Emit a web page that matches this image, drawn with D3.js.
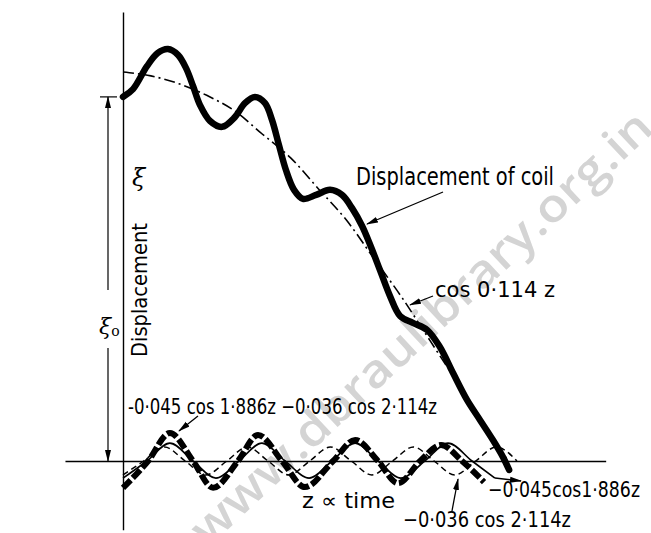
<!DOCTYPE html>
<html>
<head>
<meta charset="utf-8">
<script src="https://cdn.jsdelivr.net/npm/d3@7"></script>
<style>
  html, body { margin: 0; padding: 0; background: #fff; }
  svg { display: block; background: #fff; }
  text { font-family: "DejaVu Sans Condensed", "Liberation Sans Narrow", "DejaVu Sans", sans-serif; fill: #000; }
</style>
</head>
<body>
<svg id="chart" width="651" height="533"></svg>
<script>
// values: z along the bottom, displacement as a fraction of the full swing

// displacement of coil (thick solid)
const mainZ = [0, 0.36, 0.86, 1.25, 1.61, 1.97, 2.26, 2.51, 2.76, 3.12, 3.55, 4.01, 4.37, 4.73, 5.09,
  5.34, 5.59, 5.84, 6.13, 6.45, 6.92, 7.42, 7.85, 8.21, 8.57, 8.89, 9.21, 9.57, 9.93, 10.39,
  10.90, 11.36, 11.83, 12.33, 12.80, 13.26, 13.62, 13.84];
const mainV = [0.936, 0.956, 1.015, 1.049, 1.059, 1.044, 1.010, 0.964, 0.915, 0.874, 0.859, 0.884, 0.920, 0.936, 0.920,
  0.877, 0.812, 0.748, 0.697, 0.674, 0.684, 0.697, 0.684, 0.650, 0.604, 0.550, 0.491, 0.424, 0.373, 0.355,
  0.337, 0.293, 0.226, 0.157, 0.105, 0.054, 0.010, -0.023];

// cos 0.114z (dash-dot)
const cosZ = [0, 1, 2, 3, 4, 5, 6, 7, 8, 9, 10, 11, 12, 13, 13.8];
const cosV = [1.00, 0.99, 0.97, 0.94, 0.90, 0.84, 0.78, 0.70, 0.62, 0.52, 0.42, 0.31, 0.20, 0.09, 0.00];

// -0.045 cos 1.886z - 0.036 cos 2.114z (thick dashed)
const sumZ = [0, 0.90, 1.68, 2.51, 3.23, 4.12, 4.84, 5.70, 6.52, 7.53, 8.32, 9.14, 9.86, 10.65, 11.40, 12.15, 12.94];
const sumV = [-0.069, 0, 0.072, 0, -0.069, 0, 0.067, 0, -0.067, 0, 0.054, 0, -0.057, 0, 0.041, 0, -0.054];

// -0.045 cos 1.886z (thin solid)
const c1Z = [0, 0.86, 1.68, 2.51, 3.33, 4.16, 4.98, 5.81, 6.67, 7.49, 8.32, 9.14, 9.96, 10.82, 11.65, 12.51, 13.33];
const c1V = [-0.044, 0, 0.046, 0, -0.044, 0, 0.046, 0, -0.044, 0, 0.046, 0, -0.044, 0, 0.046, 0, -0.044];

// -0.036 cos 2.114z (thin dashed)
const c2Z = [0, 0.74, 1.49, 2.23, 2.97, 3.72, 4.46, 5.20, 5.95, 6.69, 7.43, 8.18, 8.92, 9.66, 10.41,
  11.15, 11.89, 12.64, 13.38, 14.12];
const c2V = [-0.036, 0, 0.036, 0, -0.036, 0, 0.036, 0, -0.036, 0, 0.036, 0, -0.036, 0, 0.036,
  0, -0.036, 0, 0.036, 0];

const svg = d3.select('#chart');

const x = d3.scaleLinear().domain([0, 17]).range([123, 597.3]);
const y = d3.scaleLinear().domain([0, 1]).range([461, 72]);

const pts = (zs, vs) => zs.map((z, i) => [z, vs[i]]);

// arrowhead
const defs = svg.append('defs');
defs.append('marker')
  .attr('id', 'head')
  .attr('viewBox', '0 -4 12 8')
  .attr('refX', 11).attr('refY', 0)
  .attr('markerWidth', 12).attr('markerHeight', 8)
  .attr('markerUnits', 'userSpaceOnUse')
  .attr('orient', 'auto')
  .append('path').attr('d', 'M0,-3L12,0L0,3Z').attr('fill', '#000');

// watermark from the scan
svg.append('text')
  .attr('transform', 'translate(208,548) rotate(-43)')
  .attr('font-size', 46)
  .attr('font-weight', 600)
  .attr('textLength', 612)
  .attr('lengthAdjust', 'spacingAndGlyphs')
  .style('font-family', '"Open Sans", sans-serif')
  .style('fill', '#d4d4d4')
  .text('www.dbraulibrary.org.in');

// axes: just the two lines, no ticks
const xa = x.copy().domain([-2.08, 17.3]).range([x(-2.08), x(17.3)]);
svg.append('g')
  .attr('transform', `translate(0,${y(0)})`)
  .call(d3.axisBottom(xa).tickValues([]).tickSizeOuter(0))
  .call(g => g.select('.domain').attr('stroke-width', 1.4));

const ya = y.copy().domain([-0.177, 1.154]).range([y(-0.177), y(1.154)]);
svg.append('g')
  .attr('transform', `translate(${x(0)},0)`)
  .call(d3.axisLeft(ya).tickValues([]).tickSizeOuter(0))
  .call(g => g.select('.domain').attr('stroke-width', 1.4));

const smooth = d3.line().x(d => x(d[0])).y(d => y(d[1])).curve(d3.curveMonotoneX);
const spline = d3.line().x(d => x(d[0])).y(d => y(d[1])).curve(d3.curveCatmullRom.alpha(0.5));

// component curves
svg.append('path').datum(pts(c2Z, c2V))
  .attr('d', smooth).attr('fill', 'none').attr('stroke', '#000')
  .attr('stroke-width', 1.5).attr('stroke-dasharray', '6,4');

svg.append('path').datum(pts(c1Z, c1V))
  .attr('d', smooth).attr('fill', 'none').attr('stroke', '#000')
  .attr('stroke-width', 1.6);

svg.append('path').datum(pts(sumZ, sumV))
  .attr('d', smooth).attr('fill', 'none').attr('stroke', '#000')
  .attr('stroke-width', 6).attr('stroke-dasharray', '11,3');

// cos 0.114z
svg.append('path').datum(pts(cosZ, cosV))
  .attr('d', smooth).attr('fill', 'none').attr('stroke', '#000')
  .attr('stroke-width', 1.6).attr('stroke-dasharray', '11,4,2,4');

// displacement of coil
svg.append('path').datum(pts(mainZ, mainV))
  .attr('d', spline).attr('fill', 'none').attr('stroke', '#000')
  .attr('stroke-width', 6.5).attr('stroke-linecap', 'round').attr('stroke-linejoin', 'round');

// xi0 dimension line
const dim = svg.append('g').attr('stroke', '#000').attr('stroke-width', 1.2);
dim.append('line').attr('x1', 100).attr('x2', 117).attr('y1', y(mainV[0])).attr('y2', y(mainV[0]));
dim.append('line').attr('x1', 108).attr('x2', 108).attr('y1', 290).attr('y2', y(mainV[0]))
  .attr('marker-end', 'url(#head)');
dim.append('line').attr('x1', 108).attr('x2', 108).attr('y1', 348).attr('y2', y(0))
  .attr('marker-end', 'url(#head)');

// leaders
const arrows = [
  [443, 192, 367, 224],
  [433, 296, 410, 305],
  [198, 416, 179, 431],
  [452, 511, 458, 479],
  [495, 478, 521, 481]
];
svg.append('g').selectAll('line').data(arrows).join('line')
  .attr('x1', d => d[0]).attr('y1', d => d[1])
  .attr('x2', d => d[2]).attr('y2', d => d[3])
  .attr('stroke', '#000').attr('stroke-width', 1.3)
  .attr('marker-end', 'url(#head)');

// labels
const label = (tx, ty, s, size, len) => {
  const t = svg.append('text').attr('x', tx).attr('y', ty).attr('font-size', size).text(s);
  if (len) t.attr('textLength', len).attr('lengthAdjust', 'spacingAndGlyphs');
  return t;
};

label(356, 185, 'Displacement of coil', 24, 198);
label(435, 297, 'cos 0·114 z', 21, 120);
label(128, 414, '-0·045 cos 1·886z −0·036 cos 2·114z', 21, 309);
label(302, 508, 'z ∝ time', 21, 93);
label(488, 497, '−0·045cos1·886z', 21, 152);
label(403, 527, '−0·036 cos 2·114z', 21, 168);

svg.append('text')
  .attr('transform', 'translate(147,357) rotate(-90)')
  .attr('font-size', 21)
  .attr('textLength', 134)
  .attr('lengthAdjust', 'spacingAndGlyphs')
  .text('Displacement');

svg.append('text').attr('x', 132).attr('y', 186)
  .attr('font-size', 24).attr('font-style', 'italic')
  .style('font-family', '"DejaVu Serif", serif')
  .text('ξ');

const xi0 = svg.append('text').attr('x', 99).attr('y', 334)
  .attr('font-size', 22).attr('font-style', 'italic')
  .style('font-family', '"DejaVu Serif", serif');
xi0.append('tspan').text('ξ');
xi0.append('tspan').attr('font-size', 14).attr('font-style', 'normal').attr('dy', 2).text('o');
</script>
</body>
</html>
